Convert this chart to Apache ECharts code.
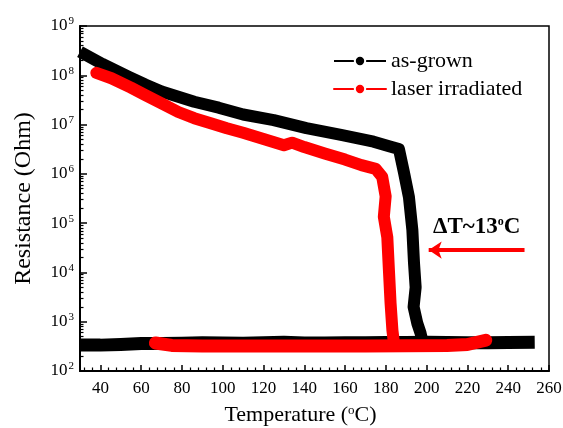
<!DOCTYPE html>
<html>
<head>
<meta charset="utf-8">
<script src="https://cdn.jsdelivr.net/npm/echarts@6/dist/echarts.min.js"></script>
<style>
  html, body { margin: 0; padding: 0; background: #fff; }
  #chart { width: 563px; height: 428px; }
</style>
</head>
<body>
<div id="chart"></div>
<script>
// 数据（温度 °C，电阻 Ohm）
const asGrownHeatT = [30, 41, 54, 62, 70, 86, 98, 110, 125, 141, 158, 174, 182, 186.4, 188.9, 191.3, 193, 193.8, 194.6, 193.6, 195.4, 197, 198];
const asGrownHeatR = [3e8, 1.7e8, 9.3e7, 6.5e7, 4.7e7, 2.9e7, 2.2e7, 1.6e7, 1.23e7, 8.5e6, 6.2e6, 4.5e6, 3.6e6, 3.2e6, 1.05e6, 3.4e5, 7.2e4, 1.55e4, 5e3, 2e3, 930, 590, 390];

const asGrownCoolT = [30, 40, 50, 60, 70, 80, 90, 100, 110, 120, 130, 140, 150, 160, 170, 180, 190, 200, 210, 220, 230, 240, 253];
const asGrownCoolR = [335, 335, 345, 360, 360, 365, 375, 370, 365, 375, 385, 370, 370, 375, 375, 380, 380, 385, 380, 375, 375, 380, 385];

const laserHeatT = [38, 45.4, 55, 61.8, 70, 78.2, 86, 94.5, 102, 110, 120, 130, 134, 140, 150, 160, 168, 175, 178.2, 179.9, 179, 180.7, 181.5, 182.3, 183.2, 184];
const laserHeatR = [1.12e8, 8.7e7, 5.6e7, 4e7, 2.7e7, 1.8e7, 1.35e7, 1.05e7, 8.4e6, 6.8e6, 5.1e6, 3.8e6, 4.3e6, 3.5e6, 2.6e6, 1.95e6, 1.5e6, 1.26e6, 8.7e5, 3.5e5, 1.35e5, 5.2e4, 1.1e4, 2.4e3, 680, 355];

const laserCoolT = [67, 75, 90, 110, 130, 150, 170, 190, 210, 220, 229];
const laserCoolR = [370, 330, 320, 320, 320, 320, 320, 325, 330, 345, 420];

const xMajorTicks = [40, 60, 80, 100, 120, 140, 160, 180, 200, 220, 240, 260];
const decades = [2, 3, 4, 5, 6, 7, 8, 9];

const serif = 'Liberation Serif';

function pairs(xs, ys) {
  return xs.map((x, i) => [x, ys[i]]);
}

const xMinorTicks = [];
for (let t = 32; t < 260; t += 4) {
  if (xMajorTicks.indexOf(t) < 0) xMinorTicks.push(t);
}
const yMinorTicks = [];
decades.slice(0, -1).forEach(d => {
  for (let k = 2; k <= 9; k++) yMinorTicks.push(k * Math.pow(10, d));
});

const chart = echarts.init(document.getElementById('chart'), null, { renderer: 'canvas' });

function lineSeries(name, color, width, data, cap) {
  return {
    name: name,
    type: 'line',
    data: data,
    symbol: 'circle',
    showSymbol: false,
    smooth: false,
    itemStyle: { color: color },
    lineStyle: { color: color, width: width, cap: cap, join: 'round' },
    emphasis: { disabled: true }
  };
}

const redSeriesCool = lineSeries('laser irradiated', '#f00', 13, pairs(laserCoolT, laserCoolR), 'round');
redSeriesCool.markLine = {
  silent: true,
  symbol: ['none', 'arrow'],
  symbolSize: 13,
  label: { show: false },
  lineStyle: { color: '#f00', width: 4, type: 'solid' },
  data: [[{ coord: [248, 28400] }, { coord: [201, 28400] }]]
};

chart.setOption({
  animation: false,
  backgroundColor: '#fff',
  grid: {
    left: 80, right: 14, top: 26, bottom: 57,
    show: true, borderColor: '#000', borderWidth: 1.5,
    outerBoundsMode: 'none'
  },
  legend: {
    data: ['as-grown', 'laser irradiated'],
    orient: 'vertical',
    left: 328, top: 45,
    itemWidth: 52, itemHeight: 13, itemGap: 6,
    selectedMode: false,
    lineStyle: { width: 2 },
    itemStyle: { borderColor: '#fff', borderWidth: 2 },
    textStyle: { fontFamily: serif, fontSize: 22, color: '#000' }
  },
  xAxis: [{
    type: 'value',
    min: 30, max: 260,
    name: 'Temperature ({sup|o}C)',
    nameLocation: 'middle',
    nameGap: 33,
    nameTextStyle: {
      fontFamily: serif, fontSize: 22, color: '#000', padding: [0, 28, 0, 0],
      rich: { sup: { fontFamily: serif, fontSize: 13, verticalAlign: 'top', padding: [0, 0, 8, 0] } }
    },
    axisLine: { lineStyle: { color: '#000', width: 2 } },
    axisTick: { inside: true, length: 6, lineStyle: { color: '#000', width: 1.5 }, customValues: xMajorTicks },
    axisLabel: { customValues: xMajorTicks, fontFamily: serif, fontSize: 17, color: '#000', margin: 9 },
    splitLine: { show: false }
  }, {
    type: 'value',
    min: 30, max: 260,
    position: 'bottom',
    axisLine: { show: false },
    axisTick: { inside: true, length: 3.5, lineStyle: { color: '#000', width: 1.2 }, customValues: xMinorTicks },
    axisLabel: { show: false },
    splitLine: { show: false }
  }],
  yAxis: [{
    type: 'log',
    logBase: 10,
    min: 1e2, max: 1e9,
    name: 'Resistance (Ohm)',
    nameLocation: 'middle',
    nameGap: 44,
    nameTextStyle: { fontFamily: serif, fontSize: 24, color: '#000' },
    axisLine: { lineStyle: { color: '#000', width: 2 } },
    axisTick: { inside: true, length: 7, lineStyle: { color: '#000', width: 1.5 } },
    axisLabel: {
      margin: 6,
      formatter: v => '{b|10}{s|' + Math.round(Math.log10(v)) + '}',
      rich: {
        b: { fontFamily: serif, fontSize: 17, color: '#000' },
        s: { fontFamily: serif, fontSize: 11, color: '#000', verticalAlign: 'top', padding: [0, 0, 9, 1] }
      }
    },
    splitLine: { show: false }
  }, {
    type: 'log',
    logBase: 10,
    min: 1e2, max: 1e9,
    position: 'left',
    offset: 0,
    axisLine: { show: false },
    axisTick: { inside: true, length: 3.5, lineStyle: { color: '#000', width: 1.2 }, customValues: yMinorTicks },
    axisLabel: { show: false },
    splitLine: { show: false }
  }],
  graphic: [{
    type: 'text',
    left: 433, top: 216,
    style: {
      text: '{a|ΔT~13}{s|o}{a|C}',
      rich: {
        a: { fontFamily: serif, fontSize: 23, fontWeight: 'bold', fill: '#000' },
        s: { fontFamily: serif, fontSize: 12, fontWeight: 'bold', fill: '#000', verticalAlign: 'top', padding: [0, 0, 11, 0] }
      }
    }
  }],
  series: [
    lineSeries('as-grown', '#000', 12, pairs(asGrownHeatT, asGrownHeatR), 'butt'),
    lineSeries('as-grown', '#000', 13, pairs(asGrownCoolT, asGrownCoolR), 'butt'),
    lineSeries('laser irradiated', '#f00', 12, pairs(laserHeatT, laserHeatR), 'round'),
    redSeriesCool
  ]
});
</script>
</body>
</html>
